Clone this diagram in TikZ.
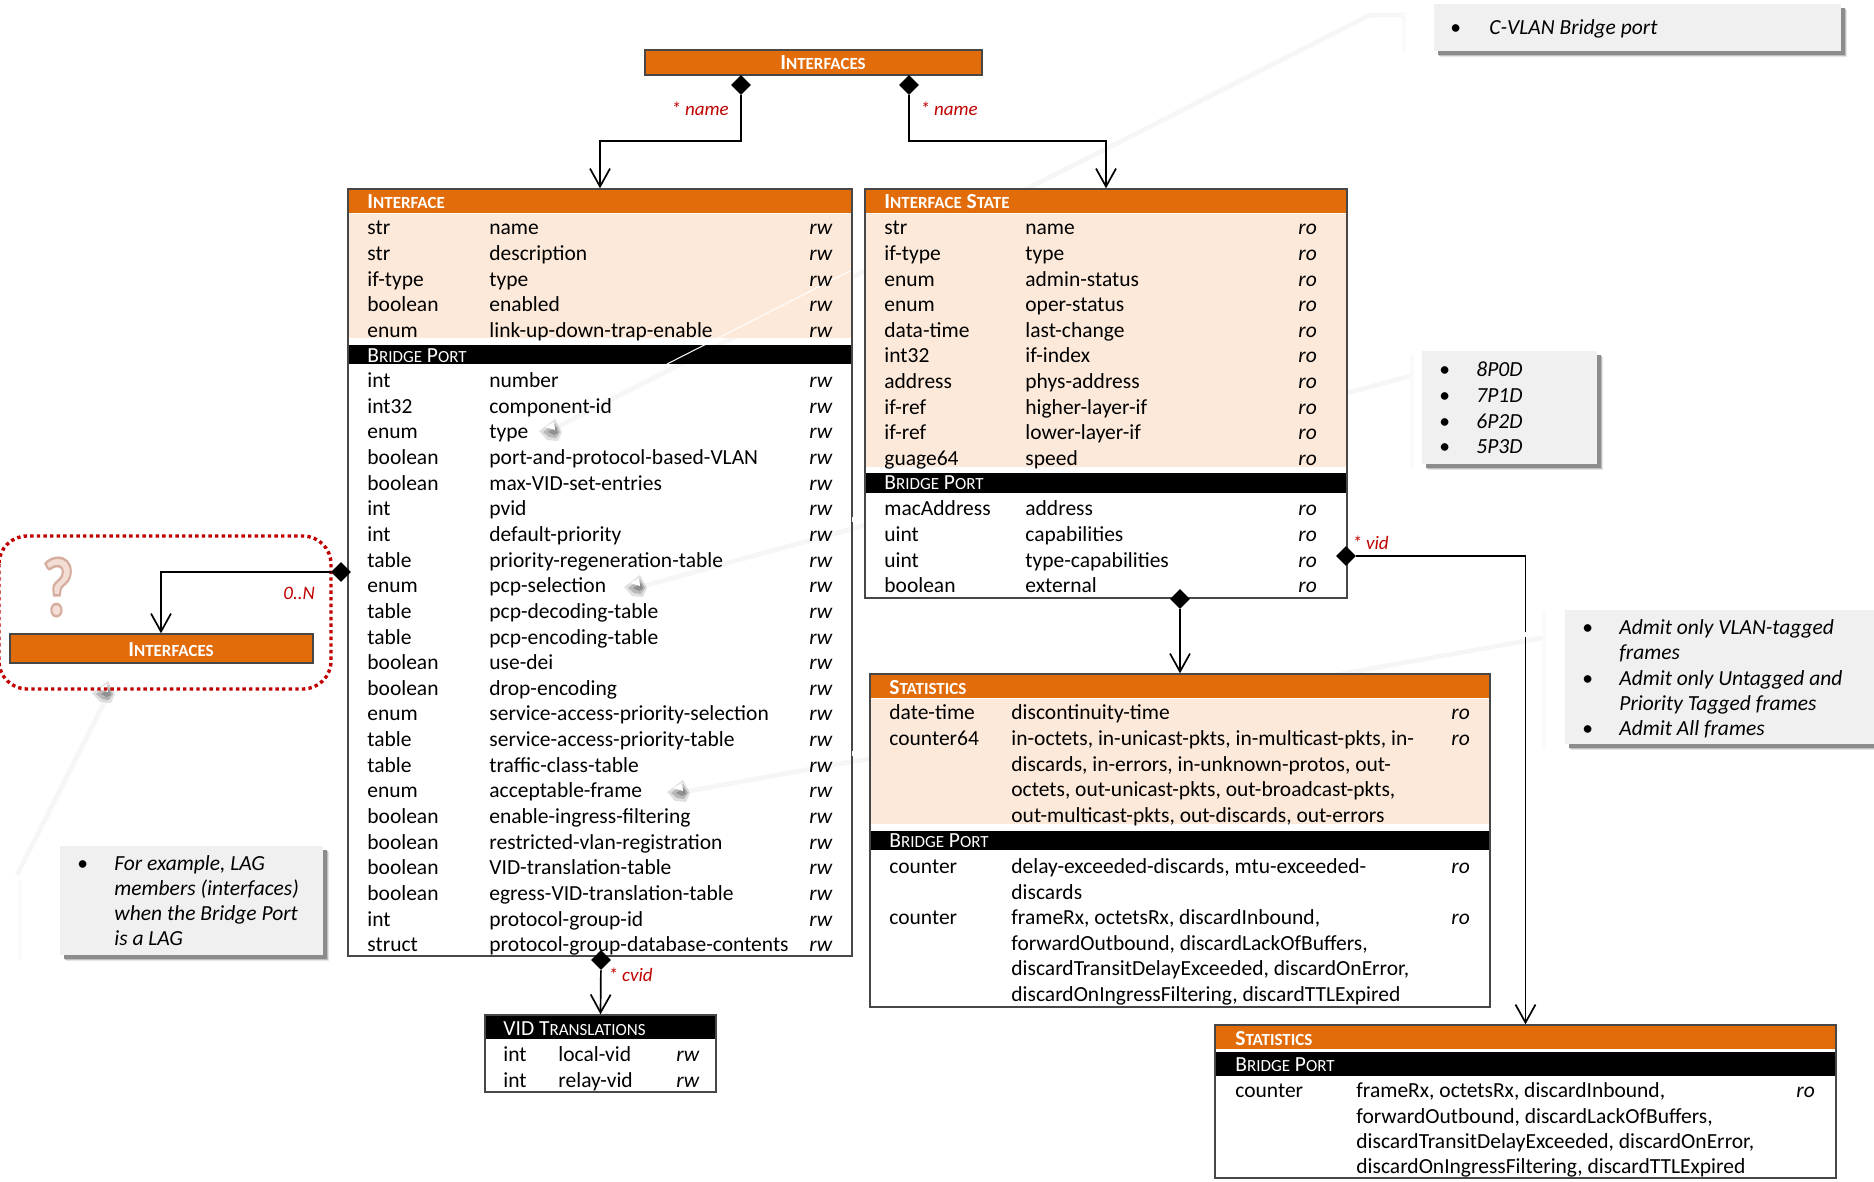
\documentclass[tikz,border=0pt]{standalone}
\usepackage{fontspec}
\setmainfont{Carlito}
\usetikzlibrary{arrows.meta,positioning,shapes.geometric,fit,shadows}

\definecolor{barorange}{HTML}{E36C0A}
\definecolor{rowpeach}{HTML}{FDE9D9}
\definecolor{calloutgrey}{HTML}{F0F0F0}
\definecolor{keyred}{HTML}{C00000}

\tikzset{
  boxline/.style={draw=black!72, line width=.7pt, inner sep=0pt},
  orangebar/.style={fill=barorange},
  peachbar/.style={fill=rowpeach},
  blackbar/.style={fill=black},
  titletext/.style={anchor=base west, inner sep=0pt, yshift=-3.4pt, text=white, font=\fontsize{10.75}{12}\selectfont\bfseries},
  porttext/.style={anchor=base west, inner sep=0pt, yshift=-3.4pt, text=white, font=\fontsize{10.75}{12}\selectfont},
  celltext/.style={anchor=base west, inner sep=0pt, yshift=-3.6pt, font=\fontsize{10.75}{12}\selectfont},
  modetext/.style={celltext, font=\fontsize{10.75}{12}\selectfont\itshape},
  keytext/.style={anchor=base west, inner sep=0pt, yshift=-3pt, text=keyred, font=\fontsize{9.5}{11}\selectfont\itshape},
  joint/.style={diamond, fill=black, inner sep=0pt, minimum width=10pt, minimum height=10pt},
  conn/.style={draw=black, line width=.85pt, {-{Straight Barb[length=9pt,width=10pt,line width=.85pt]}}},
  calloutbox/.style={fill=calloutgrey, inner sep=0pt,
    general shadow={fill=black!10, shadow xshift=3.2pt, shadow yshift=-3.2pt},
    general shadow={fill=black!25, shadow xshift=2.6pt, shadow yshift=-2.6pt},
    general shadow={fill=black!45, shadow xshift=1.9pt, shadow yshift=-1.9pt}},
  leader/.style={draw=black!3.5, line width=2.4pt},
  stubleader/.style={draw=black!2, line width=2.4pt},
  whiteleader/.style={draw=white, line width=.5pt},
}

% small capitals, by hand
\newcommand{\capword}[2]{#1{\fontsize{8.5}{12}\selectfont #2}}
% rows of a table: name, x of the three columns, first y, mode text, rows
\newcommand{\tablerows}[7]{%
  \foreach \a/\b [count=\i] in {#7}{
    \pgfmathsetmacro{\yrow}{#5+25.65*(\i-1)}
    \node[celltext] (#1a\i) at (#2,\yrow) {\a};
    \node[celltext] (#1b\i) at (#3,\yrow) {\b};
    \node[modetext] (#1c\i) at (#4,\yrow) {#6};
  }}
% shadow left by a hidden arrow head
\newcommand{\arrowshade}[2]{%
  \fill[black, opacity=.12] (#1-14,#2+1) -- (#1+2,#2-11) -- (#1+9,#2+2) -- (#1+5,#2+11) -- (#1-6,#2+10) -- cycle;
  \fill[black, opacity=.18] (#1-10,#2+2) -- (#1+2,#2-7) -- (#1+7,#2+2) -- (#1+3,#2+8) -- (#1-4,#2+7) -- cycle;
  \fill[black, opacity=.22] (#1-5,#2+2) -- (#1+3,#2-3) -- (#1+5,#2+3) -- (#1+1,#2+5) -- cycle;
  \fill[white] (#1-8,#2-3) -- (#1+1,#2-8) -- (#1+2,#2) -- cycle;}

\begin{document}
\begin{tikzpicture}[x=.5pt, y=-.5pt]
\useasboundingbox (0,0) rectangle (1874,1182);

% shadows of the hidden leaders
\draw[stubleader] (1404,12) -- (1404,52);
\draw[leader] (1402,15) -- (1370,15) -- (555,428);
\draw[stubleader] (1412,355) -- (1412,468);
\draw[leader] (1410,377) -- (1406,377) -- (640,587);
\draw[stubleader] (1544,610) -- (1544,750);
\draw[leader] (1542,638) -- (683,792);
\draw[leader] (17,875) -- (107,697);
\draw[stubleader] (20,880) -- (20,960);
\arrowshade{553}{430}
\arrowshade{638}{586}
\arrowshade{681}{791}
\arrowshade{106}{692}

% top table
\fill[orangebar] (645,50) rectangle (982,75);
\node[fit={(645,50) (982,75)}, boxline] (topbox) {};
\node[titletext, anchor=base] (toptitle) at (823,63) {\capword{I}{NTERFACES}};

% interface table
\fill[orangebar] (348,189) rectangle (852,213);
\fill[peachbar] (348,214) rectangle (852,338);
\fill[blackbar] (348,345) rectangle (852,364);
\draw[whiteleader] (852,270) -- (667,364);
\node[fit={(348,189) (852,956)}, boxline] (ifacebox) {};
\node[titletext] (ifacetitle) at (367,202) {\capword{I}{NTERFACE}};
\node[porttext] (ifaceport) at (367,356) {\capword{B}{RIDGE} \capword{P}{ORT}};
\tablerows{ifaceup}{367}{489}{809}{227.5}{rw}{str/name, str/description, if-type/type, boolean/enabled, enum/link-up-down-trap-enable}
\tablerows{ifacelow}{367}{489}{809}{380.3}{rw}{int/number, int32/component-id, enum/type, boolean/port-and-protocol-based-VLAN, boolean/max-VID-set-entries, int/pvid, int/default-priority, table/priority-regeneration-table, enum/pcp-selection, table/pcp-decoding-table, table/pcp-encoding-table, boolean/use-dei, boolean/drop-encoding, enum/service-access-priority-selection, table/service-access-priority-table, table/traffic-class-table, enum/acceptable-frame, boolean/enable-ingress-filtering, boolean/restricted-vlan-registration, boolean/VID-translation-table, boolean/egress-VID-translation-table, int/protocol-group-id, struct/protocol-group-database-contents}

% interface state table
\fill[white] (865,189) rectangle (1347,598);
\fill[orangebar] (865,189) rectangle (1347,213);
\fill[peachbar] (865,214) rectangle (1347,467);
\fill[blackbar] (865,473) rectangle (1347,493);
\node[fit={(865,189) (1347,598)}, boxline] (statebox) {};
\node[titletext] (statetitle) at (884,202) {\capword{I}{NTERFACE} \capword{S}{TATE}};
\node[porttext] (stateport) at (884,483) {\capword{B}{RIDGE} \capword{P}{ORT}};
\tablerows{stateup}{884}{1025}{1298}{227.5}{ro}{str/name, if-type/type, enum/admin-status, enum/oper-status, data-time/last-change, int32/if-index, address/phys-address, if-ref/higher-layer-if, if-ref/lower-layer-if, guage64/speed}
\tablerows{statelow}{884}{1025}{1298}{508.5}{ro}{macAddress/address, uint/capabilities, uint/type-capabilities, boolean/external}

% statistics table
\fill[white] (870,674) rectangle (1490,1007);
\fill[orangebar] (870,674) rectangle (1490,698);
\fill[peachbar] (870,699) rectangle (1490,824);
\fill[blackbar] (870,831) rectangle (1490,850);
\node[fit={(870,674) (1490,1007)}, boxline] (statsbox) {};
\node[titletext] (statstitle) at (889,688) {\capword{S}{TATISTICS}};
\node[porttext] (statsport) at (889,841) {\capword{B}{RIDGE} \capword{P}{ORT}};
\foreach \y/\t [count=\i] in {712/date-time, 738/counter64, 866/counter, 917/counter}
  \node[celltext] (statsa\i) at (889,\y) {\t};
\foreach \y [count=\i] in {712, 738, 866, 917}
  \node[modetext] (statsc\i) at (1451,\y) {ro};
\foreach \y/\t [count=\i] in {712/discontinuity-time, 738/{in-octets, in-unicast-pkts, in-multicast-pkts, in-}, 764/{discards, in-errors, in-unknown-protos, out-}, 789/{octets, out-unicast-pkts, out-broadcast-pkts,}, 815/{out-multicast-pkts, out-discards, out-errors}, 866/{delay-exceeded-discards, mtu-exceeded-}, 892/discards, 917/{frameRx, octetsRx, discardInbound,}, 943/{forwardOutbound, discardLackOfBuffers,}, 968/{discardTransitDelayExceeded, discardOnError,}, 994/{discardOnIngressFiltering, discardTTLExpired}}
  \node[celltext] (statsb\i) at (1011,\y) {\t};

% lower statistics table
\fill[orangebar] (1215,1025) rectangle (1836,1049);
\fill[blackbar] (1215,1052) rectangle (1836,1076);
\node[fit={(1215,1025) (1836,1178)}, boxline] (lowbox) {};
\node[titletext] (lowtitle) at (1235,1039) {\capword{S}{TATISTICS}};
\node[porttext] (lowport) at (1235,1065) {\capword{B}{RIDGE} \capword{P}{ORT}};
\node[celltext] (lowa1) at (1235,1090) {counter};
\node[modetext] (lowc1) at (1796,1090) {ro};
\foreach \y/\t [count=\i] in {1090/{frameRx, octetsRx, discardInbound,}, 1116/{forwardOutbound, discardLackOfBuffers,}, 1141/{discardTransitDelayExceeded, discardOnError,}, 1166/{discardOnIngressFiltering, discardTTLExpired}}
  \node[celltext] (lowb\i) at (1356,\y) {\t};

% VID translations table
\fill[blackbar] (485,1015) rectangle (716,1039);
\node[fit={(485,1015) (716,1092)}, boxline] (vidbox) {};
\node[porttext] (vidtitle) at (503,1029) {VID \capword{T}{RANSLATIONS}};
\tablerows{vid}{503}{558}{676}{1054.5}{rw}{int/local-vid, int/relay-vid}

% dotted frame and its small table
\draw[keyred, line width=1.7pt, dash pattern=on 1.7pt off 1.6pt, rounded corners=14pt] (-1,536) rectangle (331,689);
\fill[orangebar] (10,634) rectangle (313,663);
\node[fit={(10,634) (313,663)}, boxline] (ifbox) {};
\node[titletext, anchor=base] (iftitle) at (171,649.5) {\capword{I}{NTERFACES}};
\node[inner sep=0pt, xscale=.82, font=\fontsize{42}{42}\selectfont\bfseries\addfontfeature{FakeBold=3}] (query) at (58,587) {\special{pdf:bcolor [0.95 0.87 0.83] [0.84 0.68 0.62]}?\special{pdf:ecolor}};

% joints and connectors
\node[joint] (topleft) at (741,85) {};
\node[joint] (topright) at (909,85) {};
\node[joint] (ifaceside) at (341,572) {};
\node[joint] (ifacefoot) at (601,960) {};
\node[joint] (statefoot) at (1180,599) {};
\node[joint] (stateside) at (1346,556) {};
\draw[conn] (topleft) -- (741,141) -| (ifacebox.north);
\draw[conn] (topright) -- (909,141) -| (statebox.north);
\draw[conn] (ifaceside) -| (ifbox.north -| 161,634);
\draw[conn] (ifacefoot) -- (vidbox.north);
\draw[conn] (statefoot) -- (statsbox.north);
\draw[conn] (stateside) -| (lowbox.north);

% gaps the hidden leaders leave in the lines
\draw[whiteleader] (852,517) -- (852,522);
\draw[whiteleader] (852,751) -- (852,756);
\draw[whiteleader] (1525,632) -- (1525,637);

% key labels
\node[keytext] (keyleft) at (671,110) {* name};
\node[keytext] (keyright) at (920,110) {* name};
\node[keytext] (keycvid) at (608,975) {* cvid};
\node[keytext] (keyvid) at (1352,543) {* vid};
\node[keytext] (keymany) at (283,593) {0..N};

% callouts
\node[fit={(1434,4) (1841,51)}, calloutbox] (cvlan) {};
\node[celltext] (cvlanb) at (1450,27) {•};
\node[modetext] (cvlant) at (1489,27) {C-VLAN Bridge port};

\node[fit={(1422,351) (1597,464)}, calloutbox] (pairs) {};
\foreach \y/\t [count=\i] in {369/8P0D, 395/7P1D, 421/6P2D, 446/5P3D}{
  \node[celltext] (pairsb\i) at (1439,\y) {•};
  \node[modetext] (pairst\i) at (1476,\y) {\t};
}

\node[fit={(1565,610) (1890,744)}, calloutbox] (admit) {};
\foreach \y/\t [count=\i] in {627/Admit only VLAN-tagged, 652/frames, 678/Admit only Untagged and, 703/Priority Tagged frames, 728/Admit All frames}
  \node[modetext] (admitt\i) at (1619,\y) {\t};
\foreach \y [count=\i] in {627, 678, 728}
  \node[celltext] (admitb\i) at (1582,\y) {•};

\node[fit={(60,846) (323,955)}, calloutbox] (lag) {};
\node[celltext] (lagb) at (77,863) {•};
\foreach \y/\t [count=\i] in {863/{For example, LAG}, 888/members (interfaces), 913/when the Bridge Port, 938/is a LAG}
  \node[modetext] (lagt\i) at (114,\y) {\t};
\end{tikzpicture}
\end{document}
